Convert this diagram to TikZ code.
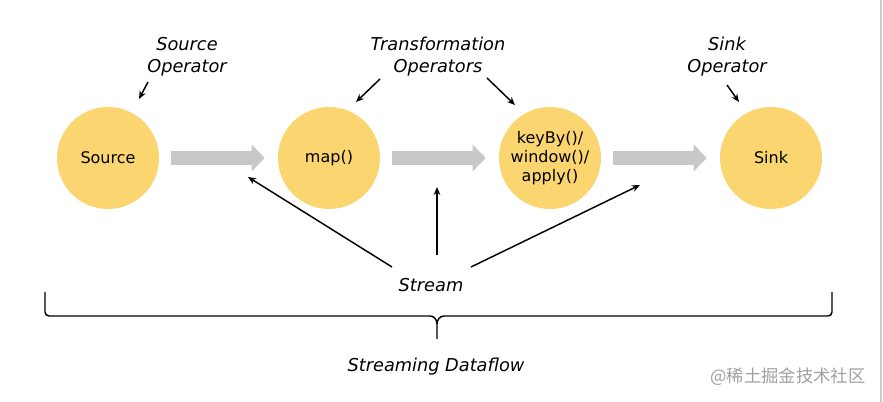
\documentclass[tikz,border=0pt]{standalone}
\usepackage{fontspec}
\setmainfont{DejaVu Sans}
\newfontfamily\cjkfont{Noto Sans CJK SC}
\usetikzlibrary{arrows.meta}
\definecolor{opyellow}{RGB}{250,213,112}
\definecolor{flowgray}{RGB}{200,200,200}
\definecolor{markgray}{RGB}{160,160,160}

\begin{document}
\begin{tikzpicture}[x=0.75pt,y=-0.75pt,
    op/.style={circle, fill=opyellow, minimum size=76.5pt, inner sep=0pt, align=center, font=\fontsize{12}{14.3}\selectfont},
    flow/.style={draw=flowgray, line width=10.5pt, -{Triangle[length=9.75pt,width=19.5pt]}, shorten <=9pt, shorten >=9.75pt},
    note/.style={align=center, font=\fontsize{13.3}{16.5}\selectfont\itshape},
    pointer/.style={-{Stealth[length=6pt,width=5pt]}, line width=1.1pt}]
\useasboundingbox (0,0) rectangle (883,402);

% operators
\node[op] (src) at (108,158) {Source};
\node[op] (map) at (329,158) {map()};
\node[op] (win) at (550,158) {keyBy()/\\window()/\\apply()};
\node[op] (sink) at (771,158) {Sink};

\draw[flow] (src) -- (map);
\draw[flow] (map) -- (win);
\draw[flow] (win) -- (sink);

% labels on top
\node[note] (srclabel) at (187,57) {Source\\Operator};
\node[note] (trlabel) at (438,57) {Transformation\\Operators};
\node[note] (sinklabel) at (727,57) {Sink\\Operator};

\coordinate (srcA) at (148,82);
\coordinate (srcB) at (139,99);
\coordinate (trA) at (380,79);
\coordinate (trB) at (356,102);
\coordinate (trC) at (487,78);
\coordinate (trD) at (515,105);
\coordinate (sinkA) at (727,85);
\coordinate (sinkB) at (739,102);
\draw[pointer] (srcA) -- (srcB);
\draw[pointer] (trA) -- (trB);
\draw[pointer] (trC) -- (trD);
\draw[pointer] (sinkA) -- (sinkB);

% stream
\node[note] (stream) at (431,285) {Stream};
\coordinate (s1) at (392,267);
\coordinate (s2) at (437,255);
\coordinate (s3) at (471,267);
\coordinate (t1) at (248,177);
\coordinate (t2) at (437,187);
\coordinate (t3) at (640,185);
\draw[pointer] (s1) -- (t1);
\draw[pointer] (s2) -- (t2);
\draw[pointer] (s3) -- (t3);

% brace
\draw[line width=1.1pt] (45,292) -- (45,312) to[out=-90,in=180] (49,316) -- (430,316)
    to[out=0,in=90] (437,324) -- (437,339);
\draw[line width=1.1pt] (437,324) to[out=90,in=180] (444,316) -- (828,316)
    to[out=0,in=-90] (832,312) -- (832,292);
\node[note] (dataflow) at (436,367) {Streaming Dataflow};

\node[text=markgray, font=\cjkfont\fontsize{13}{15}\selectfont] (mark) at (788,377) {@稀土掘金技术社区};
\draw[gray!40, line width=1pt] (881,0) -- (881,402);
\end{tikzpicture}
\end{document}
